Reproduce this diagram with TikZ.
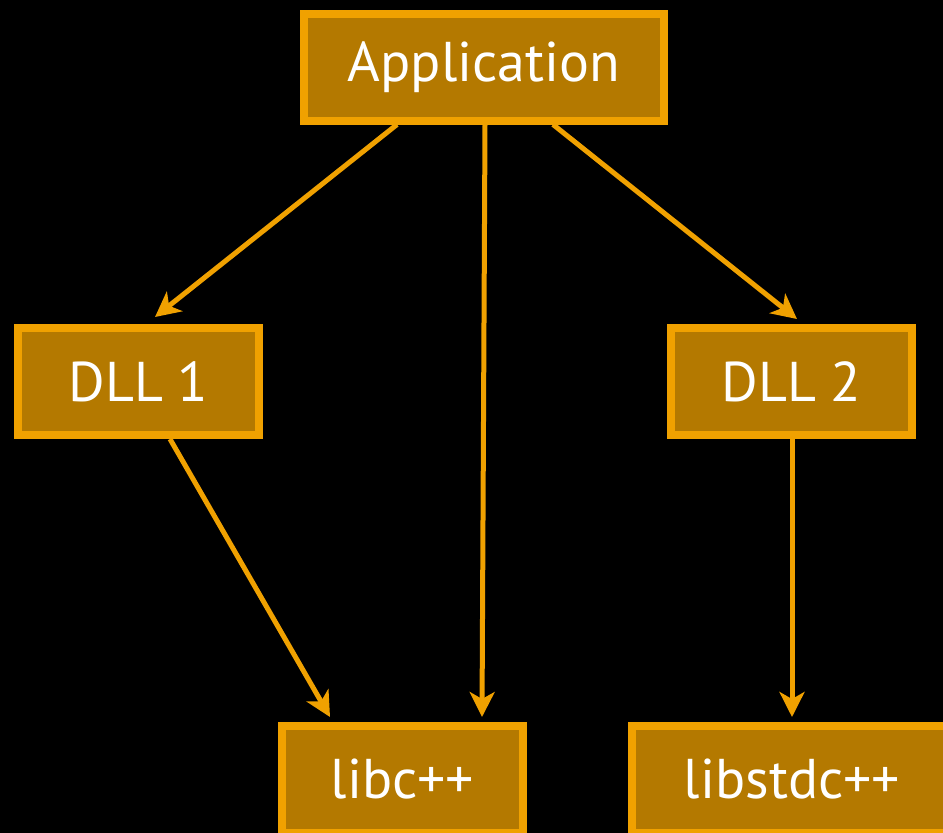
\documentclass[tikz,border=0pt]{standalone}
\usepackage{fontspec}
\setmainfont{PT Sans}
\usepackage{tikz}
\usetikzlibrary{arrows.meta}

\definecolor{boxfill}{RGB}{180,121,0}
\definecolor{boxline}{RGB}{240,161,0}

\begin{document}
\begin{tikzpicture}[x=1pt, y=-1pt,
  box/.style={draw=boxline, fill=boxfill, line width=8pt, text=white, minimum height=107pt, inner sep=0pt, font=\fontsize{56}{60}\selectfont},
  link/.style={draw=boxline, line width=5pt, -{Stealth[length=25pt,width=25pt,inset=7pt]}}]
\fill[black] (0,0) rectangle (943,833);
\useasboundingbox (0,0) rectangle (943,833);

\node[box, minimum width=360pt] (app) at (484,67) {Application};
\node[box, minimum width=241pt] (dll1) at (138.5,381.5) {DLL 1};
\node[box, minimum width=241pt] (dll2) at (791.5,381.5) {DLL 2};
\node[box, minimum width=241pt] (libc) at (402.5,779.5) {libc++};
\node[box, minimum width=320pt] (libstd) at (792,779.5) {libstdc++};

\draw[link] ([xshift=-87pt]app.south) -- ([xshift=16.5pt,yshift=7pt]dll1.north);
\draw[link] ([xshift=1pt]app.south) -- ([xshift=79.5pt,yshift=5pt]libc.north);
\draw[link] ([xshift=69pt]app.south) -- ([xshift=5.5pt,yshift=5pt]dll2.north);
\draw[link] ([xshift=31.5pt]dll1.south) -- ([xshift=-72.5pt,yshift=5pt]libc.north);
\draw[link] ([xshift=0.5pt]dll2.south) -- ([yshift=5pt]libstd.north);
\end{tikzpicture}
\end{document}
